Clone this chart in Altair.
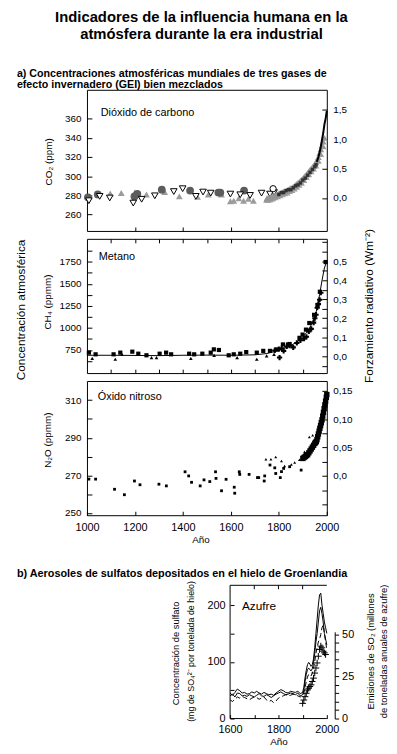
import altair as alt
import pandas as pd

FONT = "Liberation Sans"

# ---------------- CO2 (ppm) ----------------
co2_gray_tri_year = [1008, 1097, 1143, 1200, 1248, 1324, 1385, 1461, 1506, 1561, 1598, 1612, 1633, 1653, 1673, 1694, 1749, 1770]
co2_gray_tri_val = [279, 282, 282.5, 283, 281, 283.5, 279, 278.5, 281, 281, 274, 274.5, 277, 274.5, 276.5, 274.5, 275.5, 277]
co2_dark_circ_year = [1004, 1045, 1198, 1210, 1312, 1430, 1548, 1556, 1655]
co2_dark_circ_val = [278, 281, 279, 281.5, 286, 285, 283, 283, 285]
co2_open_tri_year = [1008, 1053, 1095, 1193, 1228, 1283, 1362, 1399, 1454, 1484, 1516, 1598, 1639, 1680, 1728, 1763, 1780]
co2_open_tri_val = [274.5, 279, 277.3, 272, 276, 279.6, 284, 287, 279, 283.5, 282.4, 281.4, 280.7, 280, 282.4, 281.4, 283]
co2_open_circ_year = [1776]
co2_open_circ_val = [287]
co2_band_year = [1750, 1755, 1760, 1765, 1770, 1775, 1780, 1785, 1790, 1795,
                 1800, 1805, 1810, 1815, 1820, 1825, 1830, 1835, 1840, 1845,
                 1850, 1855, 1860, 1865, 1870, 1875, 1880, 1885, 1890, 1895,
                 1900, 1905, 1910, 1915, 1920, 1925, 1930, 1935, 1940, 1945,
                 1950, 1955, 1960, 1965, 1970, 1975, 1980, 1985, 1990]
co2_band_val = [277, 277.5, 277, 278, 278.5, 279, 279, 280, 280.5, 281,
                282, 282, 283, 283.5, 284, 284.5, 285, 285.5, 286, 287,
                287.5, 288, 289, 290, 291, 292, 293, 294, 295.5, 296.5,
                297.5, 299, 300.5, 302, 303.5, 305, 306.5, 308, 309.5, 311,
                312.5, 314.5, 317, 320, 324, 328, 332, 336, 340]
co2_band2_year = [1755, 1765, 1775, 1785, 1795, 1805, 1815, 1825, 1835, 1845, 1855, 1865,
                  1875, 1885, 1895, 1905, 1915, 1925, 1935, 1945, 1955, 1965, 1975, 1985]
co2_band2_val = [275, 276, 277, 278, 279, 280, 281, 282, 283, 284.5, 285.5, 287,
                 289, 291, 293, 296, 299, 302, 305, 308, 311, 316, 323, 331]
co2_dark_band_year = [1800, 1810, 1820, 1830, 1840, 1850, 1860, 1870, 1880, 1890, 1900, 1910, 1920, 1930, 1940, 1950, 1955]
co2_dark_band_val = [281, 283, 283, 285, 286, 286, 288, 290, 291, 293, 296, 298, 301, 304, 307, 310, 312]
co2_atm_year = [1958, 1965, 1970, 1975, 1980, 1985, 1990, 1995, 2000]
co2_atm_val = [315, 320, 325, 331, 338, 345, 354, 360, 368]
co2_left_ticks = [260, 280, 300, 320, 340, 360]
co2_forcing_ticks = [0.0, 0.5, 1.0, 1.5]

# ---------------- CH4 (ppmm) ----------------
ch4_line_year = [1000, 1100, 1200, 1300, 1400, 1500, 1600, 1700, 1750, 1800, 1850, 1880, 1900, 1920, 1940, 1950, 1960, 1970, 1980, 1990, 2000]
ch4_line_val = [690, 690, 688, 686, 690, 692, 690, 695, 710, 745, 800, 850, 900, 960, 1060, 1130, 1230, 1380, 1540, 1680, 1760]
ch4_sq_year = [1008, 1036, 1111, 1139, 1189, 1214, 1248, 1303, 1330, 1351,
               1426, 1447, 1481, 1516, 1529, 1550, 1591, 1612, 1639, 1664,
               1708, 1735, 1763, 1790, 1817, 1838, 1845, 1886, 1899, 1913,
               1927, 1947, 1961, 1971, 1995]
ch4_sq_val = [720, 701, 701, 720, 731, 708, 690, 708, 720, 701,
              708, 701, 708, 720, 757, 750, 690, 701, 708, 726,
              720, 740, 740, 757, 813, 813, 818, 888, 925, 981,
              1056, 1149, 1261, 1411, 1748]
ch4_tri_year = [1022, 1118, 1146, 1269, 1290, 1433, 1530, 1626, 1708, 1749, 1780]
ch4_tri_val = [656, 645, 700, 664, 664, 656, 690, 664, 645, 683, 700]
ch4_cross_year = [1783, 1800, 1803, 1812, 1820, 1833, 1845, 1860, 1875, 1890, 1905, 1915, 1925, 1935, 1945, 1950, 1955, 1960, 1965, 1970, 1975]
ch4_cross_val = [745, 760, 664, 770, 740, 790, 800, 780, 830, 860, 880, 900, 960, 990, 1060, 1110, 1150, 1230, 1270, 1320, 1400]
ch4_left_ticks = [625, 750, 875, 1000, 1125, 1250, 1375, 1500, 1625, 1750, 1875]
ch4_forcing_ticks = [-0.05, 0.0, 0.05, 0.1, 0.15, 0.2, 0.25, 0.3, 0.35, 0.4, 0.45, 0.5, 0.55, 0.6]

# ---------------- N2O (ppmm) ----------------
n2o_dot_year = [1008, 1036, 1115, 1156, 1198, 1221, 1300, 1331, 1409, 1424,
                1436, 1472, 1488, 1512, 1536, 1538, 1561, 1580, 1614, 1616,
                1635, 1637, 1676, 1711, 1716, 1739, 1741, 1763, 1783, 1787,
                1806, 1811, 1820, 1845, 1893]
n2o_dot_val = [268, 268, 262.6, 259.7, 267, 265, 265.3, 264.4, 271.9, 269.7,
               266.3, 264.4, 267.6, 266.7, 271.9, 268.4, 261.8, 267.9, 263.7, 260.5,
               271.9, 270.5, 270.5, 268.8, 268.8, 267, 269.7, 275.5, 274, 271,
               268.8, 272, 273.7, 274.6, 272.8]
n2o_tri_year = [1746, 1767, 1787, 1811, 1824, 1852, 1866, 1886, 1907, 1920, 1927, 1934, 1941]
n2o_tri_val = [278.6, 278.6, 279.8, 277.6, 275, 275.8, 276.8, 278.3, 282.5, 281.6, 290.4, 284.6, 291.3]
n2o_sq_year = [1900, 1905, 1910, 1915, 1920, 1925, 1930, 1935, 1940, 1945, 1950, 1953, 1956, 1959,
               1962, 1965, 1968, 1971, 1974, 1977, 1980, 1983, 1986, 1989, 1992, 1995, 1998, 2000]
n2o_sq_val = [279, 279.5, 280, 280.5, 281, 282, 283, 284, 285, 286, 287, 287.5, 288, 289,
              290.5, 292, 293.5, 295, 296.5, 298, 299.5, 301.5, 303.5, 305.5, 307.5, 309.5, 311.5, 313]
n2o_left_ticks = [250, 260, 270, 280, 290, 300, 310]
n2o_forcing_ticks = [-0.05, -0.025, 0.0, 0.025, 0.05, 0.075, 0.1, 0.125, 0.15]
a_year_ticks = [1000, 1200, 1400, 1600, 1800, 2000]

# ---------------- Sulfate (panel b) ----------------
b_years = [1600, 1610, 1620, 1630, 1640, 1650, 1660, 1670, 1680, 1690,
           1700, 1710, 1720, 1730, 1740, 1750, 1760, 1770, 1780, 1790,
           1800, 1810, 1820, 1830, 1840, 1850, 1860, 1870, 1880, 1890,
           1900, 1905, 1910, 1915, 1920, 1925, 1930, 1935, 1940, 1945,
           1950, 1955, 1960, 1965, 1970, 1975, 1980, 1985, 1990, 1995, 2000]
b_solid_a = [45, 41, 46, 52, 49, 45, 46, 43, 44, 47,
             45, 48, 45, 43, 46, 44, 42, 43, 41, 45,
             48, 51, 49, 46, 45, 48, 47, 46, 48, 44,
             46, 55, 72, 85, 95, 99, 96, 92, 95, 105,
             125, 150, 175, 200, 218, 221, 200, 185, 170, 160, 150]
b_solid_b = [40, 43, 38, 45, 44, 40, 41, 39, 42, 40,
             38, 41, 44, 40, 39, 42, 40, 37, 40, 43,
             45, 47, 44, 42, 43, 45, 44, 42, 45, 40,
             42, 50, 65, 78, 86, 89, 86, 84, 88, 98,
             115, 135, 150, 170, 190, 196, 185, 170, 150, 140, 130]
b_dashed = [33, 30, 34, 38, 36, 39, 37, 35, 33, 36,
            38, 37, 34, 36, 38, 33, 30, 32, 28, 31,
            36, 38, 40, 42, 40, 41, 43, 42, 40, 38,
            40, 45, 55, 65, 73, 78, 77, 75, 80, 88,
            100, 115, 125, 135, 140, 148, 160, 165, 150, 135, 122]
so2_year = [1900, 1905, 1910, 1915, 1920, 1925, 1930, 1935, 1940, 1945, 1950, 1955, 1960, 1965, 1970, 1975, 1980, 1985, 1990, 1995]
so2_val = [9, 11, 13, 15, 17, 18, 19, 20, 22, 24, 27, 30, 33, 37, 41, 43, 42, 40, 39, 38]
b_year_ticks = [1600, 1700, 1800, 1900, 2000]
b_top_ticks = [1700, 1800, 1900]
b_left_ticks = [0, 50, 100, 150, 200]
b_right_ticks = [0, 5, 10, 15, 20, 25, 30, 35, 40, 45, 50]

# ---------------- layout constants ----------------
W = 243
H1, H2, H3 = 143, 136, 136
BY0 = 63                 # top of panel b plot inside its cell
HB = BY0 + 135           # panel b cell height
BX0, BX1 = 145, 243


def df(years, vals, name="v"):
    return pd.DataFrame({"year": years, name: vals})


def txt(text, x, y, size=11, angle=0, align="left", weight="normal"):
    return alt.Chart(pd.DataFrame({"t": [text]})).mark_text(
        align=align, baseline="middle", fontSize=size, angle=angle,
        fontWeight=weight, font=FONT, color="black"
    ).encode(text="t:N", x=alt.value(x), y=alt.value(y))


def pts(data, X, Y, **kw):
    return alt.Chart(data).mark_point(opacity=1, **kw).encode(x=X, y=Y)


def xaxis_a(values, labels=False, title=None, orient="bottom"):
    kw = dict(orient=orient, values=values, labels=labels, format="d", domain=False,
              offset=-4, tickSize=4, labelPadding=6, labelFlush=False,
              labelOverlap=False, labelFontSize=11)
    if title:
        kw.update(title=title, titleX=115, titlePadding=3, titleFontSize=10,
                  titleFontWeight="normal")
    else:
        kw.update(title=None)
    return alt.Axis(**kw)


def yaxis(values, orient, expr, size=10, off=-5, tick=5):
    return alt.Axis(orient=orient, values=values, labelExpr=expr, title=None,
                    domain=False, offset=off, tickSize=tick, labelPadding=6,
                    labelOverlap=False, labelFontSize=size)


xs_a = alt.Scale(domain=[1000, 2000], nice=False, zero=False)

# ================= Panel CO2 =================
X1 = alt.X("year:Q", scale=xs_a, axis=xaxis_a([1200, 1400, 1600, 1800]))
Y1 = alt.Y("v:Q", scale=alt.Scale(domain=[243, 390], nice=False, zero=False),
           axis=yaxis(co2_left_ticks, "left", "format(datum.value, 'd')"))
co2_left = alt.layer(
    pts(df(co2_gray_tri_year, co2_gray_tri_val), X1, Y1, shape="triangle-up", filled=True, color="#9b9b9b", size=48),
    pts(df(co2_dark_circ_year, co2_dark_circ_val), X1, Y1, shape="circle", filled=True, color="#5c5c5c", size=62),
    pts(df(co2_open_tri_year, co2_open_tri_val), X1, Y1, shape="triangle-down", filled=True, fill="white", stroke="black", strokeWidth=1, size=45),
    pts(df(co2_open_circ_year, co2_open_circ_val), X1, Y1, shape="circle", filled=True, fill="white", stroke="black", strokeWidth=1, size=40),
    pts(df(co2_band2_year, co2_band2_val), X1, Y1, shape="triangle-up", filled=True, color="#a0a0a0", size=45),
    pts(df(co2_band_year, co2_band_val), X1, Y1, shape="triangle-up", filled=True, color="#959595", size=45),
    pts(df(co2_dark_band_year, co2_dark_band_val), X1, Y1, shape="square", filled=True, color="#333333", size=12),
    alt.Chart(df(co2_atm_year, co2_atm_val)).mark_line(color="black", strokeWidth=2).encode(x=X1, y=Y1),
    txt("Dióxido de carbono", 14, 24, size=11),
    txt("CO₂ (ppm)", -38, 73, size=10, angle=270, align="center"),
)
co2_right = alt.Chart(df([2000] * 4, co2_forcing_ticks, "f")).mark_point(opacity=0).encode(
    x=alt.X("year:Q", scale=xs_a, axis=None),
    y=alt.Y("f:Q", scale=alt.Scale(domain=[-0.56, 1.836], nice=False, zero=False),
            axis=yaxis(co2_forcing_ticks, "right", "replace(format(datum.value, '.1f'), '.', ',')")),
)
panel1 = alt.layer(co2_left, co2_right).resolve_scale(y="independent").resolve_axis(x="independent").properties(
    width=W, height=H1,
    title=alt.TitleParams(
        text=["a) Concentraciones atmosféricas mundiales de tres gases de",
              "\u00a0\u00a0\u00a0\u00a0\u00a0\u00a0efecto invernadero (GEI) bien mezclados"],
        anchor="start", frame="group", dx=-71, fontSize=10.8, fontWeight="bold",
        lineHeight=11.2, offset=0, color="black", font=FONT),
)

# ================= Panel CH4 =================
X2 = alt.X("year:Q", scale=xs_a, axis=xaxis_a([1100, 1200, 1300, 1400, 1500, 1600, 1700, 1800, 1900]))
Y2 = alt.Y("v:Q", scale=alt.Scale(domain=[488, 2011], nice=False, zero=False),
           axis=yaxis(ch4_left_ticks, "left", "datum.value % 250 == 0 ? format(datum.value, 'd') : ''"))
ch4_left = alt.layer(
    alt.Chart(df(ch4_line_year, ch4_line_val)).mark_line(color="black", strokeWidth=1).encode(x=X2, y=Y2),
    pts(df(ch4_tri_year, ch4_tri_val), X2, Y2, shape="triangle-up", filled=True, color="black", size=14),
    pts(df(ch4_sq_year, ch4_sq_val), X2, Y2, shape="square", filled=True, color="black", size=18),
    pts(df(ch4_cross_year, ch4_cross_val), X2, Y2, shape="cross", filled=True, color="black", size=28),
    txt("Metano", 12, 18, size=11),
    txt("CH₄ (ppmm)", -39, 64, size=10, angle=270, align="center"),
    txt("Concentración atmosférica", -67, 72, size=12, angle=270, align="center"),
    txt("Forzamiento radiativo (Wm⁻²)", 286, 68, size=12, angle=270, align="center"),
)
ch4_right = alt.Chart(df([2000] * len(ch4_forcing_ticks), ch4_forcing_ticks, "f")).mark_point(opacity=0).encode(
    x=alt.X("year:Q", scale=xs_a, axis=xaxis_a([1100, 1200, 1300, 1400, 1500, 1600, 1700, 1800, 1900], orient="top")),
    y=alt.Y("f:Q", scale=alt.Scale(domain=[-0.0885, 0.618], nice=False, zero=False),
            axis=yaxis(ch4_forcing_ticks, "right",
                       "(datum.value > -0.001 && datum.value < 0.501 && abs(datum.value * 10 - round(datum.value * 10)) < 0.01) ? replace(format(datum.value, '.1f'), '.', ',') : ''")),
)
panel2 = alt.layer(ch4_left, ch4_right).resolve_scale(y="independent").resolve_axis(x="independent").properties(width=W, height=H2)

# ================= Panel N2O =================
X3 = alt.X("year:Q", scale=xs_a, axis=xaxis_a(a_year_ticks, labels=True, title="Año"))
Y3 = alt.Y("v:Q", scale=alt.Scale(domain=[248.8, 320.2], nice=False, zero=False),
           axis=yaxis(n2o_left_ticks, "left", "(datum.value - 250) % 20 == 0 ? format(datum.value, 'd') : ''"))
n2o_left = alt.layer(
    pts(df(n2o_dot_year, n2o_dot_val), X3, Y3, shape="square", filled=True, color="black", size=8),
    pts(df(n2o_tri_year, n2o_tri_val), X3, Y3, shape="triangle-up", filled=True, color="black", size=9),
    pts(df(n2o_sq_year, n2o_sq_val), X3, Y3, shape="square", filled=True, color="black", size=30),
    txt("Óxido nitroso", 11, 16, size=11),
    txt("N₂O (ppmm)", -39, 60, size=10, angle=270, align="center"),
)
n2o_right = alt.Chart(df([2000] * len(n2o_forcing_ticks), n2o_forcing_ticks, "f")).mark_point(opacity=0).encode(
    x=alt.X("year:Q", scale=xs_a, axis=None),
    y=alt.Y("f:Q", scale=alt.Scale(domain=[-0.0693, 0.1675], nice=False, zero=False),
            axis=yaxis(n2o_forcing_ticks, "right",
                       "datum.value == 0 ? '0,0' : ((datum.value > 0.01 && abs(datum.value * 20 - round(datum.value * 20)) < 0.01) ? replace(format(datum.value, '.2f'), '.', ',') : '')")),
)
panel3 = alt.layer(n2o_left, n2o_right).resolve_scale(y="independent").resolve_axis(x="independent").properties(width=W, height=H3)

# ================= Panel b (sulfate) =================
xs_b = alt.Scale(domain=[1600, 2000], range=[BX0, BX1], nice=False, zero=False)
XB = alt.X("year:Q", scale=xs_b, axis=alt.Axis(
    orient="bottom", values=b_year_ticks,
    labelExpr="datum.value % 200 == 0 ? format(datum.value, 'd') : ''",
    title="Año", titleX=194, titlePadding=2, titleFontSize=10, titleFontWeight="normal",
    domain=False, offset=-4, tickSize=4, labelPadding=5, labelFlush=False,
    labelOverlap=False, labelFontSize=11))
YB = alt.Y("v:Q", scale=alt.Scale(domain=[0, 234.8], range=[HB, BY0], nice=False, zero=False),
           axis=alt.Axis(orient="left", values=b_left_ticks,
                         labelExpr="datum.value % 100 == 0 ? format(datum.value, 'd') : ''",
                         title=None, domain=False, offset=-(BX0 + 4), tickSize=4, labelPadding=5,
                         labelOverlap=False, labelFontSize=11))
YR = alt.Y("s:Q", scale=alt.Scale(domain=[0, 51.5], range=[HB, HB - 87.9], nice=False, zero=False),
           axis=alt.Axis(orient="right", values=b_right_ticks,
                         labelExpr="datum.value % 25 == 0 ? format(datum.value, 'd') : ''",
                         title=None, domain=True, offset=8, tickSize=4, labelPadding=3,
                         labelOverlap=False, labelFontSize=11))
one = pd.DataFrame({"a": [0]})
BM = BY0 + 67            # vertical middle of panel b plot
b_left = alt.layer(
    alt.Chart(one).mark_rule(color="black", strokeWidth=1).encode(x=alt.value(BX0), y=alt.value(BY0), y2=alt.value(HB)),
    alt.Chart(one).mark_rule(color="black", strokeWidth=1).encode(x=alt.value(BX0), x2=alt.value(BX1), y=alt.value(BY0)),
    alt.Chart(one).mark_rule(color="black", strokeWidth=1).encode(x=alt.value(BX0), x2=alt.value(BX1), y=alt.value(HB)),
    alt.Chart(pd.DataFrame({"year": b_top_ticks})).mark_rule(color="black", strokeWidth=1).encode(
        x=XB, y=alt.value(BY0), y2=alt.value(BY0 + 4)),
    alt.Chart(df(b_years, b_solid_a)).mark_line(color="black", strokeWidth=1).encode(x=XB, y=YB),
    alt.Chart(df(b_years, b_solid_b)).mark_line(color="black", strokeWidth=1).encode(x=XB, y=YB),
    alt.Chart(df(b_years, b_dashed)).mark_line(color="black", strokeWidth=1, strokeDash=[5, 3]).encode(x=XB, y=YB),
    txt("b) Aerosoles de sulfatos depositados en el hielo de Groenlandia", -71, BY0 - 11, size=11, weight="bold"),
    txt("Azufre", BX0 + 12, BY0 + 21, size=12),
    txt("Concentración de sulfato", 90, BM + 2, size=9.5, angle=270, align="center"),
    txt("(mg de SO₄²⁻ por tonelada de hielo)", 105, BM, size=9, angle=270, align="center"),
    txt("Emisiones de SO₂ (millones", 288, BM, size=9.5, angle=270, align="center"),
    txt("de toneladas anuales de azufre)", 301, BM, size=9.5, angle=270, align="center"),
)
b_right = alt.Chart(df(so2_year, so2_val, "s")).mark_point(
    shape="M-1,0L1,0M0,-1L0,1", filled=False, color="black", strokeWidth=1, size=45, opacity=1
).encode(x=alt.X("year:Q", scale=xs_b, axis=None), y=YR)
panelB = alt.layer(b_left, b_right).resolve_scale(y="independent").resolve_axis(x="independent").properties(
    width=W, height=HB, view=alt.ViewBackground(strokeOpacity=0))

chart = alt.vconcat(panel1, panel2, panel3, panelB, spacing=8, bounds="flush").properties(
    title=alt.TitleParams(
        text=["Indicadores de la influencia humana en la", "atmósfera durante la era industrial"],
        anchor="middle", fontSize=15, fontWeight="bold", lineHeight=17, offset=26,
        color="black", font=FONT),
    padding={"left": 6, "top": -3, "right": 0, "bottom": 0},
).configure(font=FONT).configure_axis(
    grid=False, labelColor="black", tickColor="black", domainColor="black",
    titleColor="black", labelFont=FONT, titleFont=FONT, tickWidth=1, domainWidth=1,
).configure_view(stroke="black", strokeWidth=1).configure_text(font=FONT)

chart.save("out.html", embed_options={"renderer": "svg", "actions": False})
